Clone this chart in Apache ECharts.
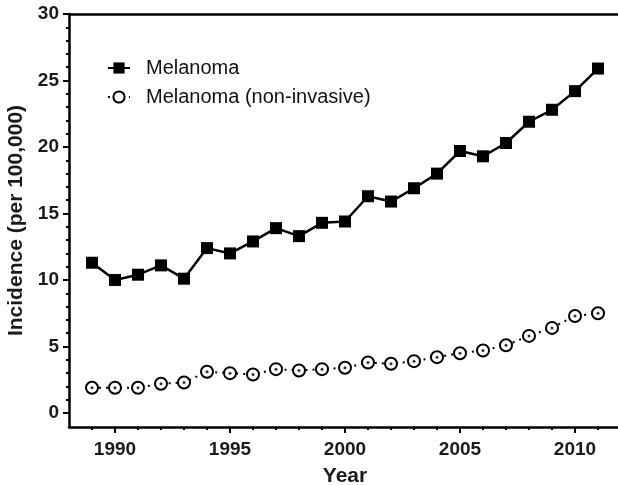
<!DOCTYPE html>
<html><head><meta charset="utf-8">
<script src="https://cdn.jsdelivr.net/npm/echarts@6/dist/echarts.min.js"></script>
<style>html,body{margin:0;padding:0;background:#fff}#c{width:618px;height:485px}</style>
</head><body><div id="c"></div>
<script>
const years = [1989,1990,1991,1992,1993,1994,1995,1996,1997,1998,1999,2000,2001,2002,2003,2004,2005,2006,2007,2008,2009,2010,2011];
const melanoma = [11.3,10.0,10.4,11.1,10.1,12.4,12.0,12.9,13.9,13.3,14.3,14.4,16.3,15.9,16.9,18.0,19.7,19.3,20.3,21.9,22.8,24.2,25.9];
const nonInvasive = [1.9,1.9,1.9,2.2,2.3,3.1,3.0,2.9,3.3,3.2,3.3,3.4,3.8,3.7,3.9,4.2,4.5,4.7,5.1,5.8,6.4,7.3,7.5];
const seriesNames = ['Melanoma','Melanoma (non-invasive)'];
const xTickLabels = [1990,1995,2000,2005,2010];
const yTickLabels = [0,5,10,15,20,25,30];
const yMinorTicks = [];
for (let v = 0; v <= 30; v++) yMinorTicks.push(v);

const FONT = '"Liberation Sans", Arial, Helvetica, sans-serif';
const AX = {color:'#000', width:2.5};
const TXT = {fontFamily:FONT, fontWeight:'bold', color:'#1a1a1a'};

const chart = echarts.init(document.getElementById('c'));
chart.setOption({
  animation:false,
  backgroundColor:'#fff',
  grid:{left:69, top:14, width:552, height:413, outerBoundsMode:'none', containLabel:false},
  legend:{
    orient:'vertical', left:102, top:53, itemWidth:22, itemHeight:14, itemGap:9,
    textStyle:{fontFamily:FONT, fontSize:20, color:'#111', padding:[0,0,0,11]},
    data:seriesNames
  },
  xAxis:[
    {type:'value', min:1988, max:2012, position:'bottom',
     axisLine:{show:true, onZero:false, lineStyle:AX},
     axisTick:{show:true, customValues:xTickLabels, length:6, lineStyle:{color:'#000', width:2}},
     axisLabel:Object.assign({customValues:xTickLabels, fontSize:19, margin:13, formatter:v=>String(v)}, TXT),
     splitLine:{show:false},
     name:'Year', nameLocation:'middle', nameGap:39,
     nameTextStyle:Object.assign({fontSize:21}, TXT)},
    {type:'value', min:1988, max:2012, position:'bottom',
     axisLine:{show:false, onZero:false},
     axisTick:{show:true, customValues:years, length:3, lineStyle:{color:'#000', width:2}},
     axisLabel:{show:false}, splitLine:{show:false}},
    {type:'value', min:1988, max:2012, position:'top',
     axisLine:{show:true, onZero:false, lineStyle:AX},
     axisTick:{show:false}, axisLabel:{show:false}, splitLine:{show:false}}
  ],
  yAxis:[
    {type:'value', min:-1.05, max:30, position:'left',
     axisLine:{show:true, onZero:false, lineStyle:AX},
     axisTick:{show:true, customValues:yTickLabels, length:6, lineStyle:{color:'#000', width:2}},
     axisLabel:Object.assign({customValues:yTickLabels, fontSize:19, margin:10, formatter:v=>String(v)}, TXT),
     splitLine:{show:false},
     name:'Incidence (per 100,000)', nameLocation:'middle', nameGap:31, nameRotate:90,
     nameTextStyle:Object.assign({fontSize:21}, TXT)},
    {type:'value', min:-1.05, max:30, position:'left',
     axisLine:{show:false, onZero:false},
     axisTick:{show:true, customValues:yMinorTicks, length:3, lineStyle:{color:'#000', width:2}},
     axisLabel:{show:false}, splitLine:{show:false}}
  ],
  series:[
    {name:seriesNames[0], type:'line', xAxisIndex:0, yAxisIndex:0,
     data:years.map((y,i)=>[y, melanoma[i]]),
     symbol:'rect', symbolSize:12,
     lineStyle:{color:'#000', width:2.5},
     itemStyle:{color:'#000'}, z:3},
    {name:seriesNames[1], type:'line', xAxisIndex:0, yAxisIndex:0,
     data:years.map((y,i)=>[y, nonInvasive[i]]),
     symbol:'emptyCircle', symbolSize:12,
     lineStyle:{color:'#000', width:2, type:[2,5]},
     itemStyle:{color:'#000', borderColor:'#000', borderWidth:2}, z:3},
    {name:'centre', type:'scatter', xAxisIndex:0, yAxisIndex:0,
     data:years.map((y,i)=>[y, nonInvasive[i]]),
     symbol:'circle', symbolSize:3, itemStyle:{color:'#000'}, silent:true, z:4}
  ]
});
</script></body></html>
